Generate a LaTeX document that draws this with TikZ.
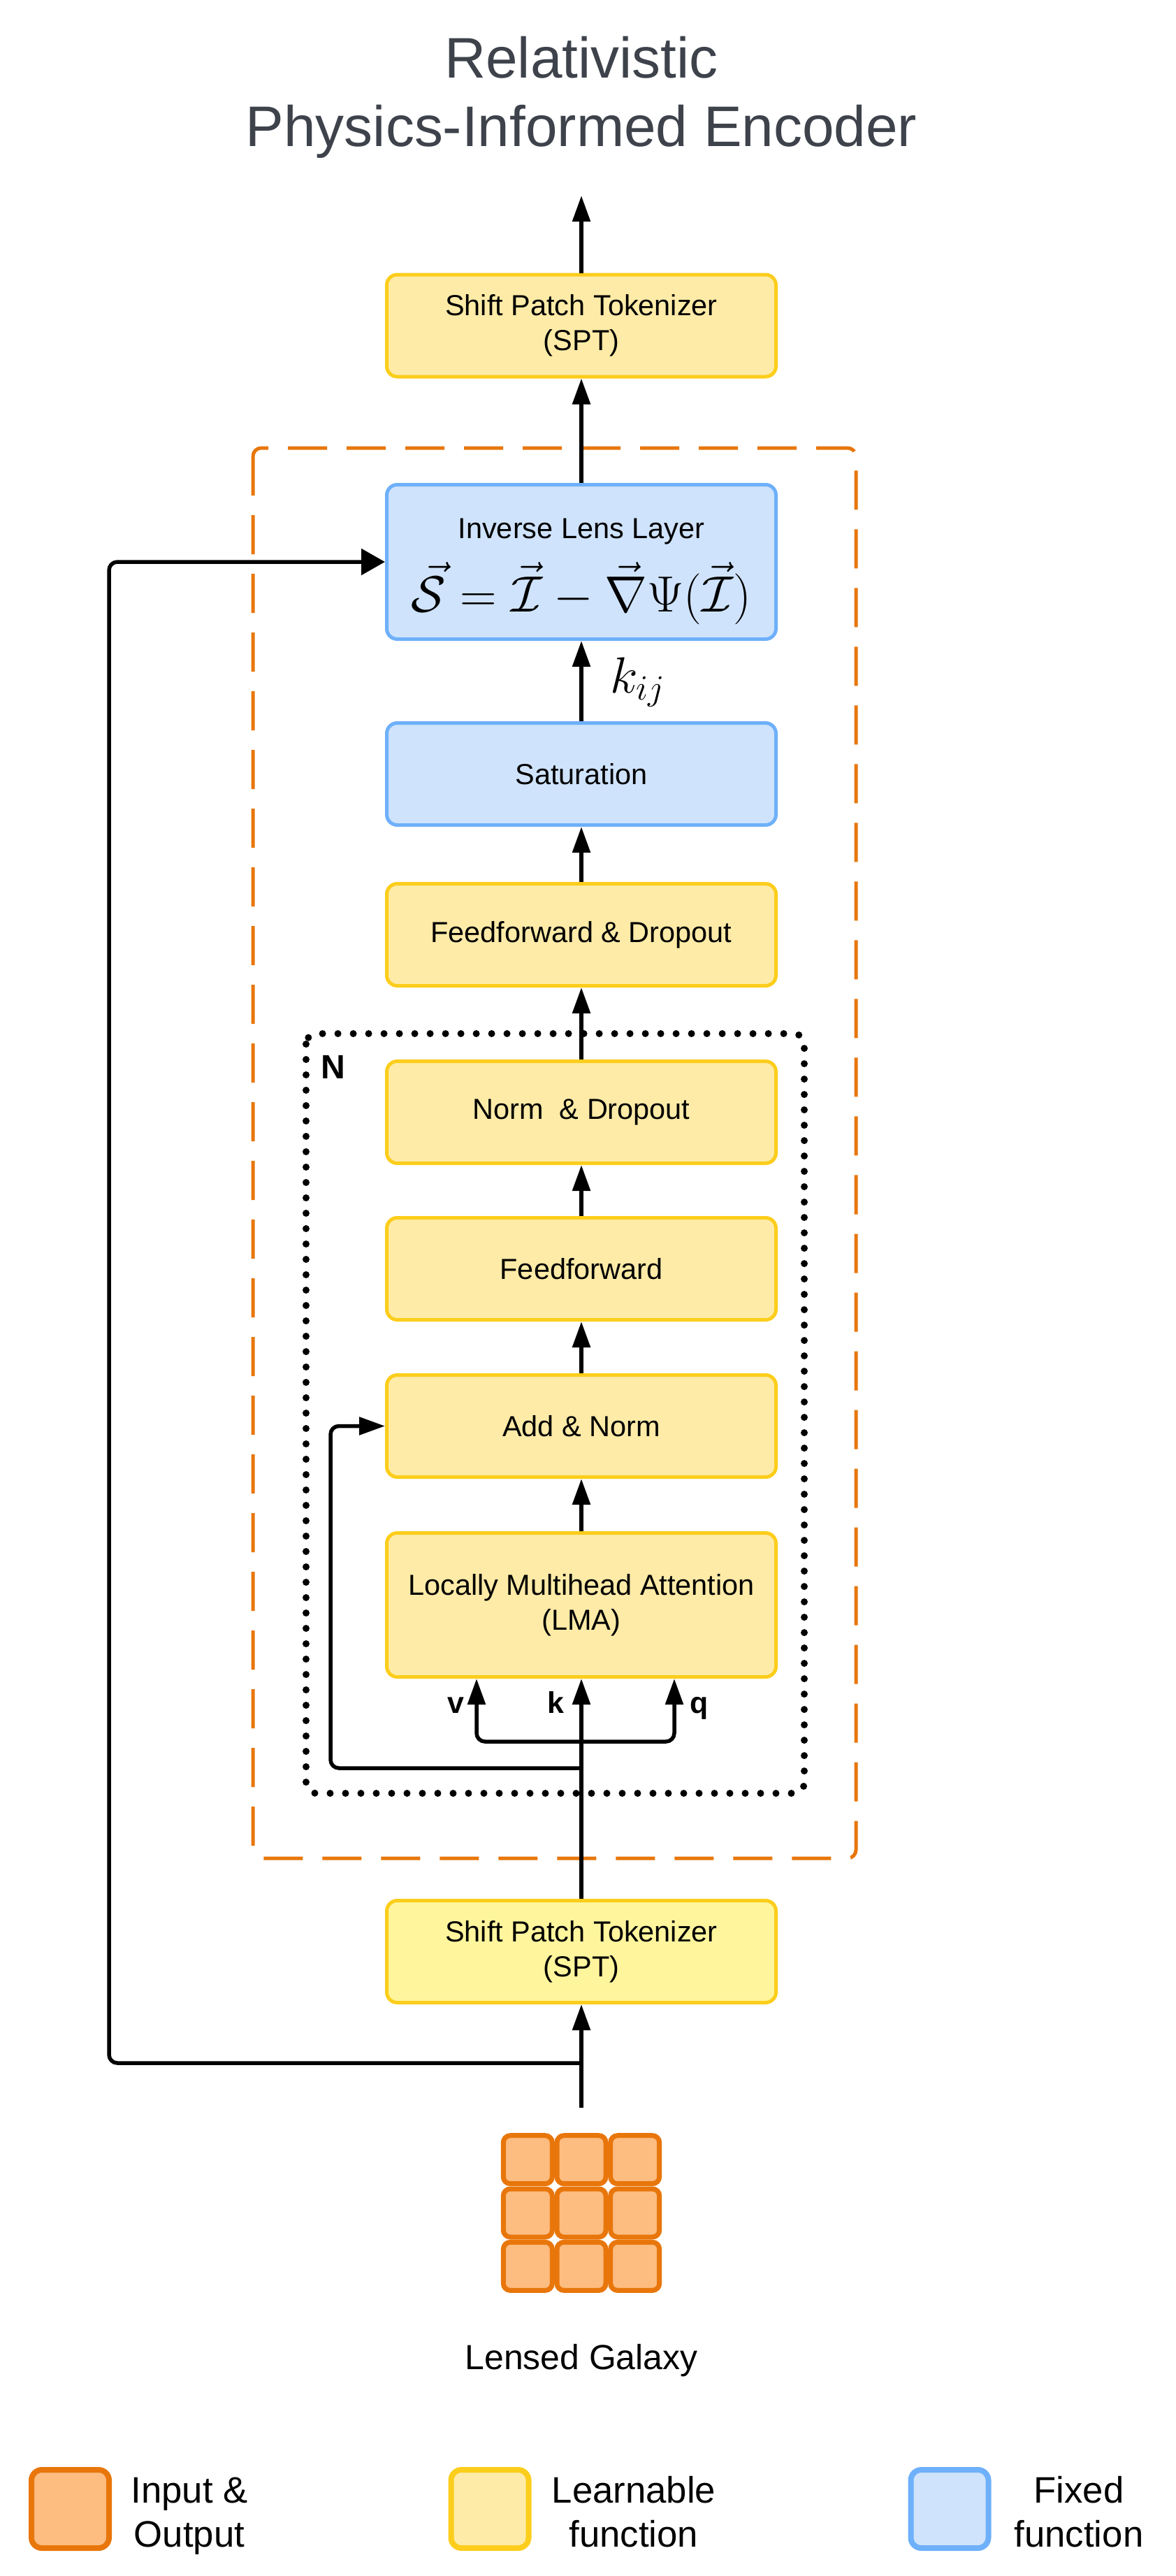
\documentclass[tikz,border=0pt]{standalone}
\usepackage{amsmath,amssymb}
\usepackage{fontspec}
\setmainfont{Liberation Sans}
\usetikzlibrary{positioning,arrows.meta}

\definecolor{titlegray}{HTML}{3D424B}
\definecolor{learnfill}{HTML}{FEEBA7}
\definecolor{learnline}{HTML}{FCCD1B}
\definecolor{tokfill}{HTML}{FFF59D}
\definecolor{fixfill}{HTML}{CFE3FC}
\definecolor{fixline}{HTML}{6EB0FA}
\definecolor{iofill}{HTML}{FDBC80}
\definecolor{ioline}{HTML}{E8760B}

\newcommand{\boxfont}{\fontsize{11.8}{14.2}\selectfont}

\begin{document}
\begin{tikzpicture}[
  layer/.style={
    rectangle, rounded corners=0.15cm, minimum width=5.57cm, minimum height=1.46cm,
    draw=learnline, fill=learnfill, line width=0.05cm, align=center, font=\boxfont
  },
  fixed/.style={layer, draw=fixline, fill=fixfill},
  patch/.style={
    rectangle, rounded corners=0.1cm, minimum width=0.70cm, minimum height=0.69cm,
    draw=ioline, fill=iofill, line width=0.07cm
  },
  keybox/.style={
    rectangle, rounded corners=0.15cm, minimum width=1.11cm, minimum height=1.12cm,
    line width=0.08cm
  },
  keytext/.style={anchor=base, align=center, font=\fontsize{15}{17.9}\selectfont},
  arrow/.style={-{Triangle[length=0.37cm, width=0.25cm]}, line width=0.055cm, black},
  bigarrow/.style={-{Triangle[length=0.34cm, width=0.37cm]}, line width=0.055cm, black},
  lensframe/.style={draw=ioline, line width=0.05cm, dash pattern=on 0.56cm off 0.28cm, rounded corners=0.12cm},
  repeatframe/.style={draw=black, line width=0.1cm, dash pattern=on 0pt off 0.22cm, line cap=round, rounded corners=0.15cm},
  qkvlabel/.style={anchor=base, font=\bfseries\fontsize{12.2}{14}\selectfont}
]
\useasboundingbox (0,0) rectangle (16.82,-36.86);

% === Title ===
\node[anchor=base, align=center, text=titlegray, font=\fontsize{23.3}{27.6}\selectfont] (title)
  at (8.32,-2.09) {Relativistic\\Physics-Informed Encoder};

% === Frames ===
\draw[lensframe] (3.62,-6.41) rectangle (12.25,-26.59);
\draw[repeatframe] (4.38,-14.79) rectangle (11.51,-25.66);
\node[anchor=base west, inner sep=0pt, font=\bfseries\fontsize{13.7}{16}\selectfont] (nrep) at (4.59,-15.43) {N};

% === Layer boxes ===
\node[layer] (sptout) at (8.32,-4.66) {Shift Patch Tokenizer\\(SPT)};
\node[fixed, minimum height=2.21cm] (invlens) at (8.32,-8.04) {};
\node[anchor=base, inner sep=0pt, font=\boxfont] (invlenstitle) at (8.32,-7.70) {Inverse Lens Layer};
\node[anchor=base, inner sep=0pt, font=\fontsize{21.5}{25}\selectfont] (invlenseq) at (8.32,-8.75)
  {$\vec{\mathcal{S}} = \vec{\mathcal{I}} - \vec{\nabla}\Psi(\vec{\mathcal{I}})$};
\node[fixed] (sat) at (8.32,-11.075) {Saturation};
\node[layer] (ffd) at (8.32,-13.375) {Feedforward \& Dropout};
\node[layer] (normdrop) at (8.32,-15.915) {Norm\ \ \& Dropout};
\node[layer] (ff) at (8.32,-18.155) {Feedforward};
\node[layer] (addnorm) at (8.32,-20.405) {Add \& Norm};
\node[layer, minimum height=2.06cm] (lma) at (8.32,-22.965) {Locally Multihead Attention\\(LMA)};
\node[layer, fill=tokfill] (sptin) at (8.32,-27.925) {Shift Patch Tokenizer\\(SPT)};

% === Lensed galaxy patches ===
\foreach \i in {0,1,2}
  \foreach \j in {0,1,2}
    \node[patch] (g\i\j) at ({7.553+0.767*\i},{-30.902-0.763*\j}) {};
\node[anchor=base, font=\fontsize{14.2}{17}\selectfont] (galaxylabel) at (8.32,-33.90) {Lensed Galaxy};

% === Helper points ===
\coordinate (encout) at (8.32,-2.80);
\coordinate (galaxytop) at (8.32,-30.16);
\coordinate (skip) at (8.32,-29.52);
\coordinate (resid) at (8.32,-25.30);
\coordinate (qkv) at (8.32,-24.92);

% === Main flow ===
\draw[arrow] (sptout.north) -- (encout);
\draw[arrow] (invlens) -- (sptout);
\draw[arrow] (sat) -- (invlens);
\draw[arrow] (ffd) -- (sat);
\draw[arrow] (normdrop) -- (ffd);
\draw[arrow] (ff) -- (normdrop);
\draw[arrow] (addnorm) -- (ff);
\draw[arrow] (lma) -- (addnorm);
\draw[arrow] (sptin) -- (lma);
\draw[arrow] (galaxytop) -- (sptin);
\node[anchor=base west, inner sep=0pt, font=\fontsize{21}{24}\selectfont] (kij) at (8.73,-9.91) {$k_{ij}$};

% === Attention inputs ===
\draw[arrow, rounded corners=0.12cm] (qkv) -| ([xshift=-1.50cm]lma.south);
\draw[arrow, rounded corners=0.12cm] (qkv) -| ([xshift=1.33cm]lma.south);
\node[qkvlabel] (vlab) at (6.52,-24.51) {v};
\node[qkvlabel] (klab) at (7.95,-24.51) {k};
\node[qkvlabel] (qlab) at (10.01,-24.51) {q};

% === Skip connections ===
\draw[arrow, rounded corners=0.12cm] (resid) -- ++(-3.59,0) |- (addnorm.west);
\draw[bigarrow, rounded corners=0.12cm] (skip) -- ++(-6.76,0) |- (invlens.west);

% === Legend ===
\node[keybox, draw=ioline, fill=iofill] (keyio) at (1.005,-35.90) {};
\node[keytext] (keyiotext) at (2.71,-36.44) {Input \&\\Output};
\node[keybox, draw=learnline, fill=learnfill] (keylearn) at (7.01,-35.90) {};
\node[keytext] (keylearntext) at (9.07,-36.44) {Learnable\\function};
\node[keybox, draw=fixline, fill=fixfill] (keyfix) at (13.59,-35.90) {};
\node[keytext] (keyfixtext) at (15.44,-36.44) {Fixed\\function};

\end{tikzpicture}
\end{document}
